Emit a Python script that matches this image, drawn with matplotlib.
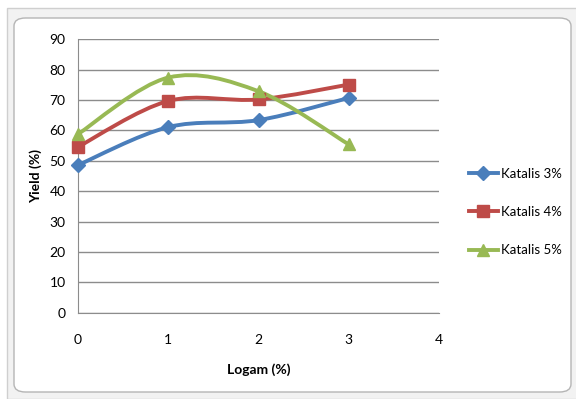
import numpy as np
import matplotlib.pyplot as plt
from matplotlib.path import Path
from matplotlib.patches import PathPatch, FancyBboxPatch, Rectangle
from matplotlib.lines import Line2D

plt.rcParams['font.family'] = ['Lato', 'DejaVu Sans']

# Yield data per catalyst loading
logam = [0, 1, 2, 3]
katalis_3 = [48.6, 61.1, 63.4, 70.7]
katalis_4 = [54.6, 69.7, 70.2, 75.1]
katalis_5 = [58.8, 77.4, 72.9, 55.4]
labels = ['Katalis 3%', 'Katalis 4%', 'Katalis 5%']
colors = ['#4a7ebb', '#be4b48', '#98b954']
markers = ['D', 's', '^']
msizes = [7, 9, 9]


def smooth_path(x, y):
    # Catmull-Rom style bezier through the points (like Excel smoothed lines)
    pts = np.column_stack([x, y]).astype(float)
    verts = [pts[0]]
    codes = [Path.MOVETO]
    n = len(pts)
    for i in range(n - 1):
        p0 = pts[i - 1] if i > 0 else pts[i]
        p1 = pts[i]
        p2 = pts[i + 1]
        p3 = pts[i + 2] if i + 2 < n else pts[i + 1]
        c1 = p1 + (p2 - p0) / 6.0
        c2 = p2 - (p3 - p1) / 6.0
        verts += [c1, c2, p2]
        codes += [Path.CURVE4] * 3
    return Path(verts, codes)


fig = plt.figure(figsize=(5.76, 3.99), dpi=100)

# chart frame
fig.patches.append(Rectangle((7 / 576, 0), 1, 1 - 8 / 399, transform=fig.transFigure,
                             facecolor='#f2f2f2', edgecolor='#cfcfcf', lw=1, zorder=-3))
fig.patches.append(FancyBboxPatch((14 / 576, 7 / 399), 557 / 576, 374 / 399,
                                  boxstyle='round,pad=0,rounding_size=0.02',
                                  transform=fig.transFigure, facecolor='white',
                                  edgecolor='#b5b5b5', lw=1, zorder=-2))

ax = fig.add_axes([78 / 576, 1 - 312.7 / 399, 361 / 576, 273.4 / 399])
ax.set_facecolor('none')
ax.set_xlim(0, 4)
ax.set_ylim(0, 90)
ax.set_xticks(range(0, 5))
ax.set_yticks(range(0, 91, 10))
ax.grid(axis='y', color='#8c8c8c', lw=1)
ax.set_axisbelow(True)
for s in ['top', 'right']:
    ax.spines[s].set_visible(False)
for s in ['left', 'bottom']:
    ax.spines[s].set_color('#8c8c8c')
ax.tick_params(length=0, labelsize=10, colors='black')
ax.tick_params(axis='y', pad=9)
ax.tick_params(axis='x', pad=15)

handles = []
for ys, lab, c, m, ms in zip([katalis_3, katalis_4, katalis_5], labels, colors, markers, msizes):
    ax.add_patch(PathPatch(smooth_path(logam, ys), facecolor='none', edgecolor=c,
                           lw=2.8, capstyle='round', zorder=3))
    ax.plot(logam, ys, ls='none', marker=m, ms=ms, color=c, clip_on=False, zorder=4)
    handles.append(Line2D([], [], color=c, lw=2.8, marker=m, ms=ms, label=lab))

ax.set_xlabel('Logam (%)', fontweight='bold', fontsize=10, labelpad=13)
ax.set_ylabel('Yield (%)', fontweight='bold', fontsize=10, labelpad=5)

fig.legend(handles=handles, loc='center left', bbox_to_anchor=(457 / 576, 1 - 212 / 399),
           frameon=False, fontsize=9.5, handlelength=2.2, handletextpad=0.2,
           labelspacing=2.0)

fig.savefig('out.png', dpi=100)
